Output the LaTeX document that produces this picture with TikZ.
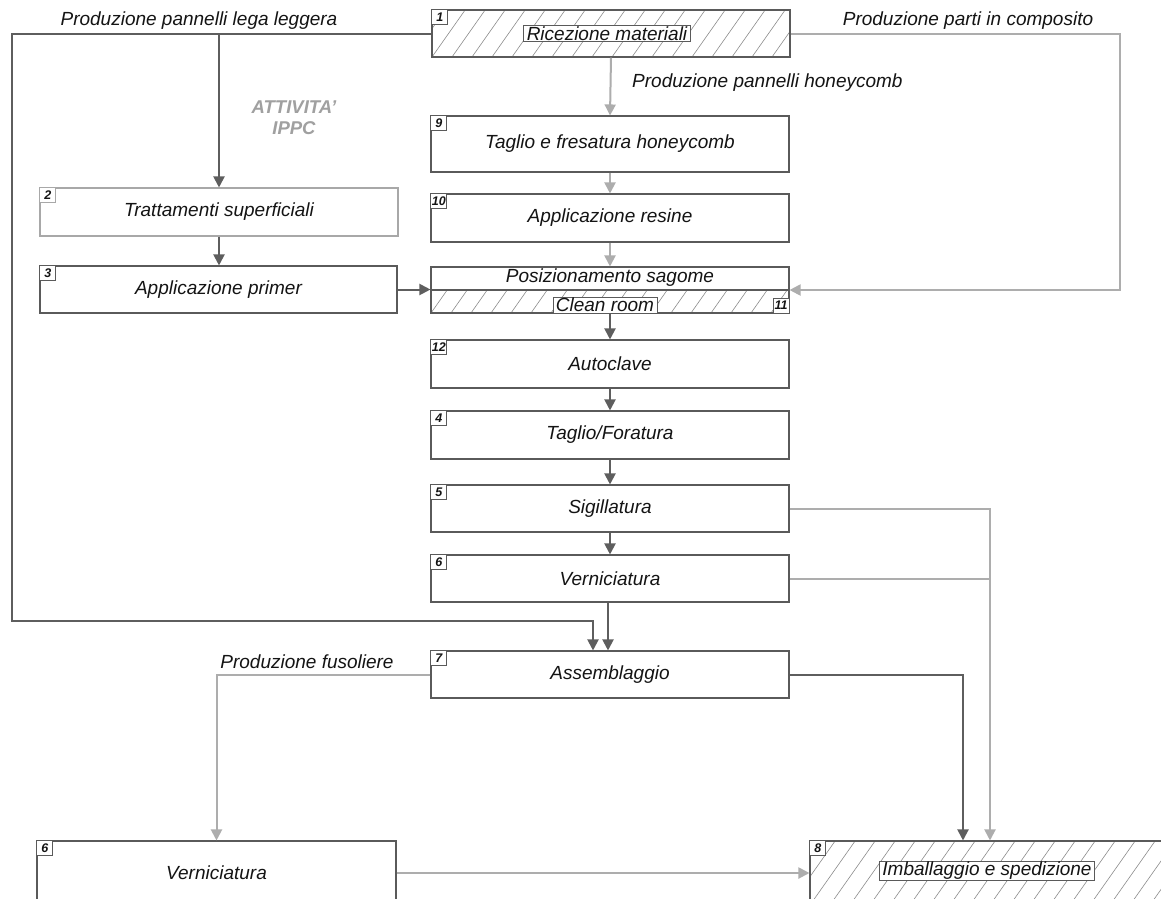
\documentclass[tikz,border=0pt]{standalone}
\usepackage{fontspec}
\setmainfont{Liberation Sans}
\usetikzlibrary{arrows.meta}

\definecolor{dk}{HTML}{5E5E5E}
\definecolor{lt}{HTML}{ADADAD}
\definecolor{edge}{HTML}{5A5A5A}
\definecolor{softedge}{HTML}{A8A8A8}
\definecolor{hatchc}{HTML}{8C8C8C}
\definecolor{ink}{HTML}{141414}
\definecolor{ippc}{HTML}{A0A0A0}

\newcommand\txtfont{\itshape\fontsize{19}{21}\selectfont}
\newcommand\numfont{\bfseries\itshape\fontsize{12.5}{12.5}\selectfont}

% diagonal hatching clipped to a rectangle (x1,y1) -- (x2,y2), y growing downwards
\newcommand\hatchrect[4]{%
  \begin{scope}
    \clip (#1,#2) rectangle (#3,#4);
    \foreach \k in {-4,...,20}
      \draw[hatchline] ({#1+\k*20},{#4}) -- ++(50,-71);
  \end{scope}}

\begin{document}
\begin{tikzpicture}[x=1pt, y=-1pt,
  >={Triangle[length=11pt,width=11pt]},
  hatchline/.style={draw=hatchc, line width=0.6pt},
  box/.style={draw=edge, line width=1.1pt, minimum width=358pt, inner sep=0pt, font=\txtfont, text=ink},
  num/.style={draw=edge, line width=0.8pt, fill=white, font=\numfont, text=ink, minimum width=16pt, minimum height=15pt, inner sep=1pt},
  tag/.style={draw=edge, line width=0.8pt, fill=white, font=\txtfont, text=ink, inner xsep=3pt, inner ysep=1pt},
  lbl/.style={font=\txtfont, text=ink, inner sep=0pt},
  dkline/.style={draw=dk, line width=2pt},
  ltline/.style={draw=lt, line width=2pt}]

\useasboundingbox (0,0) rectangle (1161,898);
\fill[white] (0,0) rectangle (1161,898);
\clip (0,0) rectangle (1161,898);

% hatched areas
\hatchrect{432}{10}{790}{57}
\hatchrect{431}{290}{789}{313}
\hatchrect{810}{841}{1180}{905}

% central column
\node[box, minimum height=47pt] (b1) at (611,33.5) {};
\node[box, minimum height=56pt] (b9) at (610,144) {Taglio e fresatura honeycomb};
\node[box, minimum height=48pt] (b10) at (610,218) {Applicazione resine};
\node[box, minimum height=46pt] (b11) at (610,290) {};
\node[box, minimum height=48pt] (b12) at (610,364) {Autoclave};
\node[box, minimum height=48pt] (b4) at (610,435) {Taglio/Foratura};
\node[box, minimum height=47pt] (b5) at (610,508.5) {Sigillatura};
\node[box, minimum height=47pt] (b6) at (610,578.5) {Verniciatura};
\node[box, minimum height=47pt] (b7) at (610,674.5) {Assemblaggio};

% left column
\node[box, draw=softedge, minimum height=48pt] (b2) at (219,212) {Trattamenti superficiali};
\node[box, minimum width=357pt, minimum height=47pt] (b3) at (218.5,289.5) {Applicazione primer};

% bottom row
\node[box, minimum width=359pt, minimum height=64pt] (b6b) at (216.5,873) {Verniciatura};
\node[box, minimum width=370pt, minimum height=64pt] (b8) at (995,873) {};

% inner labels
\node[tag] (t1) at (607,33.5) {Ricezione materiali};
\node[lbl] (t11a) at (610,278) {Posizionamento sagome};
\draw[draw=edge, line width=1.1pt] (b11.west) -- (b11.east);
\node[tag, anchor=south] (t11b) at ([xshift=-5pt]b11.south) {Clean room};
\node[tag] (t8) at (987,871) {Imballaggio e spedizione};

% step numbers
\node[num, anchor=north west] (n1) at (b1.north west) {1};
\node[num, anchor=north west] (n9) at (b9.north west) {9};
\node[num, anchor=north west] (n10) at (b10.north west) {10};
\node[num, anchor=south east] (n11) at (b11.south east) {11};
\node[num, anchor=north west] (n12) at (b12.north west) {12};
\node[num, anchor=north west] (n4) at (b4.north west) {4};
\node[num, anchor=north west] (n5) at (b5.north west) {5};
\node[num, anchor=north west] (n6) at (b6.north west) {6};
\node[num, anchor=north west] (n7) at (b7.north west) {7};
\node[num, draw=softedge, anchor=north west] (n2) at (b2.north west) {2};
\node[num, anchor=north west] (n3) at (b3.north west) {3};
\node[num, anchor=north west] (n6b) at (b6b.north west) {6};
\node[num, anchor=north west] (n8) at (b8.north west) {8};

% flow labels
\node[lbl] (l1) at (199,21) {Produzione pannelli lega leggera};
\node[lbl] (l2) at (968,21) {Produzione parti in composito};
\node[lbl, anchor=west] (l3) at (632,83) {Produzione pannelli honeycomb};
\node[lbl] (l4) at (307,662) {Produzione fusoliere};
\node[font=\bfseries\itshape\fontsize{18.5}{21}\selectfont, text=ippc, align=center, inner sep=0pt] (ippc) at (294,118) {ATTIVITA'\\IPPC};

% routing points
\coordinate (lp1) at (12,33.5);
\coordinate (lp2) at (12,621);
\coordinate (lp3) at (593,621);
\coordinate (rp1) at (1120,33.5);
\coordinate (rp2) at (1120,290);
\coordinate (r5) at (990,0);
\coordinate (r7) at (963,0);

% light alloy panels
\draw[dkline,->] (b1.west) -- (lp1) -- (lp2) -- (lp3) -- (lp3 |- b7.north);
\draw[dkline,->] (b2.north |- b1.west) -- (b2.north);
\draw[dkline,->] (b2.south) -- (b2.south |- b3.north);
\draw[dkline,->] (b3.east) -- (b3.east -| b11.west);

% honeycomb panels
\draw[ltline,->] (b1.south) -- (b9.north);
\draw[ltline,->] (b9.south) -- (b10.north);
\draw[ltline,->] (b10.south) -- (b11.north);
\draw[ltline,->] (b1.east) -- (rp1) -- (rp2) -- (b11.east);
\draw[dkline,->] (b11.south) -- (b12.north);
\draw[dkline,->] (b12.south) -- (b4.north);
\draw[dkline,->] (b4.south) -- (b5.north);
\draw[dkline,->] (b5.south) -- (b6.north);
\draw[dkline,->] ([xshift=-2pt]b6.south) -- ([xshift=-2pt]b7.north);

% towards packing and shipping
\draw[ltline,->] (b5.east) -- (b5.east -| r5) -- (r5 |- b8.north);
\draw[ltline] (b6.east) -- (b6.east -| r5);
\draw[dkline,->] (b7.east) -- (b7.east -| r7) -- (r7 |- b8.north);

% fuselage production
\draw[ltline,->] (b7.west) -- (b7.west -| b6b.north) -- (b6b.north);
\draw[ltline,->] (b6b.east) -- (b8.west);

\end{tikzpicture}
\end{document}
